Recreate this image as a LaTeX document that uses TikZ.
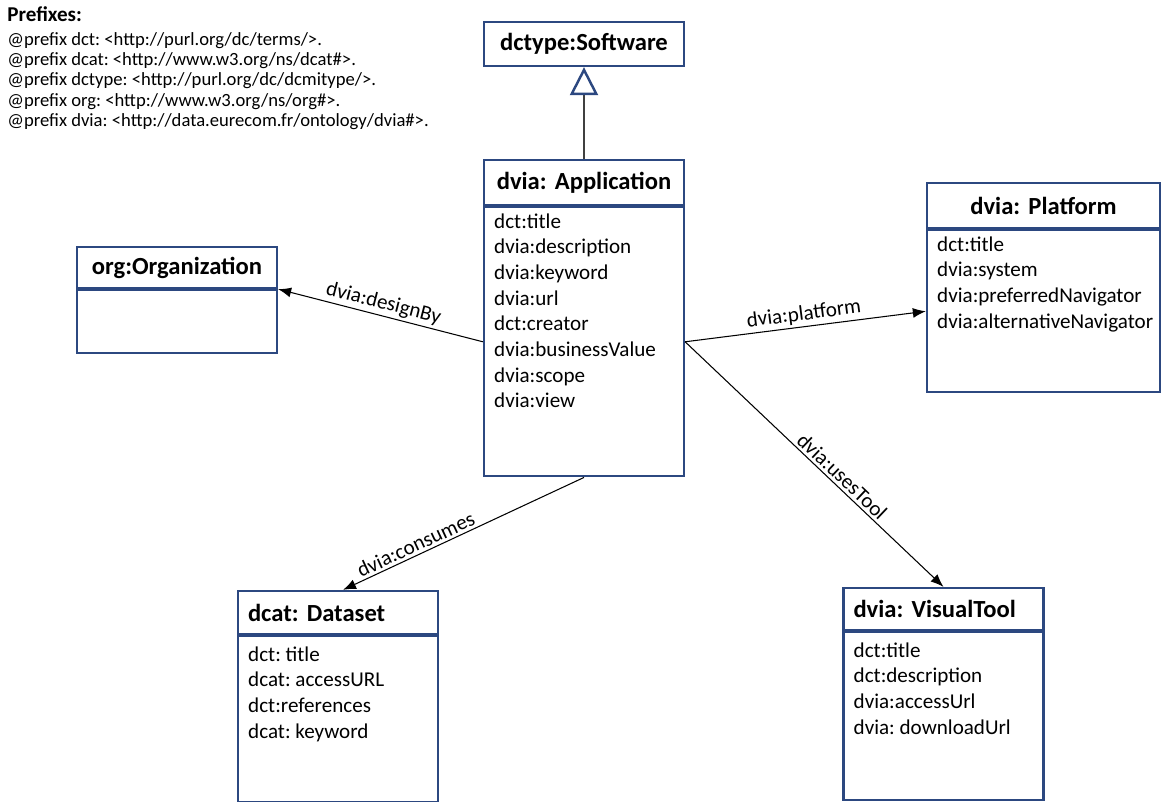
\documentclass[tikz,border=0pt]{standalone}
\usepackage{fontspec}
\setmainfont{Carlito}
\frenchspacing
\usetikzlibrary{arrows.meta}
\definecolor{umlblue}{RGB}{44,72,128}

\tikzset{
  cls/.style={draw=umlblue, line width=1.3pt, minimum width=40mm, text width=36mm,
    align=center, inner xsep=2mm, font=\fontsize{14}{16}\selectfont\bfseries},
  body/.style={draw=umlblue, line width=1.3pt, minimum width=40mm, anchor=north},
  attr/.style={anchor=north west, align=left, inner xsep=2.2mm, inner ysep=1.4mm,
    font=\fontsize{12}{14.6}\selectfont},
  rel/.style={-{Latex[length=2.6mm,width=2mm]}, line width=0.6pt},
  lbl/.style={sloped, above, inner sep=1.5pt, font=\fontsize{12}{14}\selectfont}
}

\begin{document}
\begin{tikzpicture}[x=0.2mm, y=-0.2mm]
  \useasboundingbox (0,0) rectangle (1163,802);

  % prefixes
  \node (prefixes) at (7,6) [anchor=north west, align=left, inner sep=0pt,
    font=\fontsize{10.6}{11.6}\selectfont]
    {{\fontsize{12}{12}\selectfont\bfseries Prefixes:}\\[2pt]
     @prefix dct: <http://purl.org/dc/terms/>.\\
     @prefix dcat: <http://www.w3.org/ns/dcat\#>.\\
     @prefix dctype: <http://purl.org/dc/dcmitype/>.\\
     @prefix org: <http://www.w3.org/ns/org\#>.\\
     @prefix dvia: <http://data.eurecom.fr/ontology/dvia\#>.};

  % classes
  \node (soft) at (584,44) [cls, minimum height=8.8mm] {dctype:Software};

  \node (app) at (584,182.5) [cls, minimum height=9mm] {dvia: Application};
  \node (app-body) at (app.south) [body, minimum height=53.8mm] {};
  \node (app-attrs) at (app-body.north west) [attr]
    {dct:title\\dvia:description\\dvia:keyword\\dvia:url\\dct:creator\\
     dvia:businessValue\\dvia:scope\\dvia:view};

  \node (org) at (177,267.5) [cls, minimum height=8.2mm] {org:Organization};
  \node (org-body) at (org.south) [body, minimum height=12.6mm] {};

  \node (plat) at (1043.5,205.5) [cls, minimum width=46.6mm, text width=42.6mm,
    minimum height=9mm] {dvia: Platform};
  \node (plat-body) at (plat.south) [body, minimum width=46.6mm, minimum height=32.4mm] {};
  \node (plat-attrs) at (plat-body.north west) [attr]
    {dct:title\\dvia:system\\dvia:preferredNavigator\\dvia:alternativeNavigator};

  \node (data) at (338,612.5) [cls, align=left, minimum height=8.6mm] {dcat: Dataset};
  \node (data-body) at (data.south) [body, minimum height=33.2mm] {};
  \node (data-attrs) at ([yshift=-0.8mm]data-body.north west) [attr]
    {dct: title\\dcat: accessURL\\dct:references\\dcat: keyword};

  \node (tool) at (943.5,609) [cls, align=left, minimum height=8.4mm] {dvia: VisualTool};
  \node (tool-body) at (tool.south) [body, minimum height=33.6mm] {};
  \node (tool-attrs) at ([yshift=-0.8mm]tool-body.north west) [attr]
    {dct:title\\dct:description\\dvia:accessUrl\\dvia: downloadUrl};

  % generalisation
  \draw[line width=0.8pt, black!75,
    -{Triangle[open, length=5.6mm, width=5.6mm, line width=1.4pt, color=umlblue, fill=white]}]
    (app.north) -- (soft.south);

  % properties
  \draw[rel] (app-body.west) -- (org.south east)
    node[lbl, pos=0.5] {dvia:designBy};
  \draw[rel] (app-body.east) -- (plat-body.west)
    node[lbl, pos=0.5] {dvia:platform};
  \draw[rel] (app-body.east) -- (tool.north)
    node[lbl, pos=0.58] {dvia:usesTool};
  \draw[rel] (app-body.south) -- ([xshift=1mm]data.north)
    node[lbl, pos=0.68] {dvia:consumes};
\end{tikzpicture}
\end{document}
